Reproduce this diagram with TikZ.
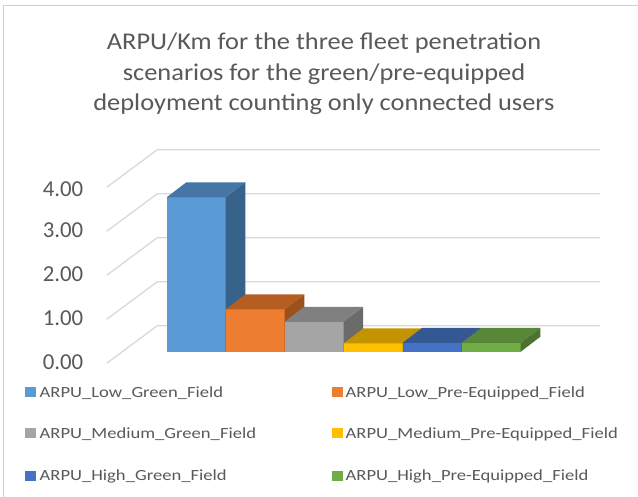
\documentclass[tikz,border=0pt]{standalone}
\usepackage{fontspec}
\setmainfont{Carlito}
\newfontfamily\titlefont{Carlito}[FakeStretch=1.1]
\newfontfamily\legfont{Carlito}[FakeStretch=1.2]
\definecolor{txt}{HTML}{595959}
\definecolor{grid}{HTML}{D9D9D9}
\definecolor{frm}{HTML}{D0D0D0}
\definecolor{bA}{HTML}{5B9BD5}\definecolor{bAt}{HTML}{4576A6}\definecolor{bAs}{HTML}{376289}
\definecolor{oA}{HTML}{ED7D31}\definecolor{oAt}{HTML}{B65E22}\definecolor{oAs}{HTML}{9C501C}
\definecolor{gA}{HTML}{A5A5A5}\definecolor{gAt}{HTML}{808080}\definecolor{gAs}{HTML}{6B6B6B}
\definecolor{yA}{HTML}{FFC000}\definecolor{yAt}{HTML}{C49300}\definecolor{yAs}{HTML}{A67C00}
\definecolor{dA}{HTML}{4472C4}\definecolor{dAt}{HTML}{345894}\definecolor{dAs}{HTML}{2C4B7E}
\definecolor{nA}{HTML}{70AD47}\definecolor{nAt}{HTML}{588738}\definecolor{nAs}{HTML}{4A7230}
\tikzset{
  gridline/.style={draw=grid, line width=1.3pt},
  ticklab/.style={anchor=east, text=txt, font=\fontsize{22.8}{24}\selectfont, inner sep=0pt},
  titletext/.style={anchor=base, text=txt, font=\titlefont\fontsize{24}{30}\selectfont, inner sep=0pt},
  legtext/.style={anchor=base west, text=txt, font=\legfont\fontsize{15.5}{17}\selectfont, inner sep=0pt},
  legsq/.style={minimum width=11pt, minimum height=10pt, inner sep=0pt, draw=none},
}
\begin{document}
\begin{tikzpicture}[x=1pt,y=-1pt]
\useasboundingbox (0,0) rectangle (638,497);
\fill[white] (0,0) rectangle (638,497);
% frame
\draw[frm, line width=1pt] (3.5,497) -- (3.5,5.3) -- (638,5.3);
% title
\node[titletext] (title1) at (324,50) {ARPU/Km for the three fleet penetration};
\node[titletext] (title2) at (324,81) {scenarios for the green/pre-equipped};
\node[titletext] (title3) at (324,110.5) {deployment counting only connected users};
% gridlines
\foreach \k in {0,...,4} {
  \draw[gridline] (106.7,363.3-44*\k) -- (157.3,325.7-44*\k) -- (600,325.7-44*\k);
}
% tick labels
\node[ticklab] (t0) at (83.5,362) {0.00};
\node[ticklab] (t1) at (83.5,318) {1.00};
\node[ticklab] (t2) at (83.5,274) {2.00};
\node[ticklab] (t3) at (83.5,230) {3.00};
\node[ticklab] (t4) at (83.5,189) {4.00};
% bars
\foreach \xl/\v/\cf/\ct/\cs in {166.7/3.51/bA/bAt/bAs, 225.7/0.96/oA/oAt/oAs, 284.5/0.68/gA/gAt/gAs, 343.7/0.19/yA/yAt/yAs, 402.5/0.20/dA/dAt/dAs, 461.7/0.20/nA/nAt/nAs} {
  \pgfmathsetmacro{\yt}{351.7-44*\v}
  \fill[\cf] (\xl,351.7) rectangle (\xl+59,\yt);
  \fill[\ct] (\xl,\yt) -- (\xl+19.7,\yt-15) -- (\xl+78.7,\yt-15) -- (\xl+59,\yt) -- cycle;
  \fill[\cs] (\xl+59,351.7) -- (\xl+59,\yt) -- (\xl+78.7,\yt-15) -- (\xl+78.7,336.7) -- cycle;
}
% legend
\node[legsq, fill=bA] (l1) at (30.5,392.5) {};
\node[legtext] (L1) at (39.5,397.5) {ARPU\_Low\_Green\_Field};
\node[legsq, fill=oA] (l2) at (337,392.5) {};
\node[legtext] (L2) at (345.5,397.5) {ARPU\_Low\_Pre-Equipped\_Field};
\node[legsq, fill=gA] (l3) at (30.5,433.3) {};
\node[legtext] (L3) at (39.5,438.5) {ARPU\_Medium\_Green\_Field};
\node[legsq, fill=yA] (l4) at (337,433.3) {};
\node[legtext] (L4) at (345.5,438.5) {ARPU\_Medium\_Pre-Equipped\_Field};
\node[legsq, fill=dA] (l5) at (30.5,475.7) {};
\node[legtext] (L5) at (39.5,480.5) {ARPU\_High\_Green\_Field};
\node[legsq, fill=nA] (l6) at (337,475.7) {};
\node[legtext] (L6) at (345.5,480.5) {ARPU\_High\_Pre-Equipped\_Field};
\end{tikzpicture}
\end{document}
